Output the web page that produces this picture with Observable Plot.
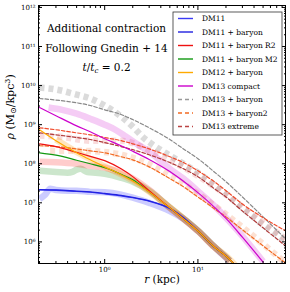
<!DOCTYPE html>
<html><head><meta charset="utf-8">
<script src="https://cdn.jsdelivr.net/npm/d3@7"></script>
<script src="https://cdn.jsdelivr.net/npm/@observablehq/plot@0.6"></script>
<style>
html,body{margin:0;padding:0;background:#fff;}
#chart{position:relative;width:290px;height:292px;}
</style></head><body><div id="chart"></div>
<script>
// ---------- data (r in kpc, values are log10 rho in Msun/kpc^3) ----------
const rThin = [0.2, 0.3, 0.5, 0.7, 1, 1.5, 2, 3, 5, 7, 10, 15, 20, 25];
const dm11Log       = [7.33, 7.32, 7.29, 7.27, 7.23, 7.18, 7.13, 7.04, 6.85, 6.62, 6.28, 5.87, 5.64, 5.41];
const dm11BarLog    = [7.34, 7.33, 7.30, 7.28, 7.24, 7.19, 7.14, 7.05, 6.86, 6.62, 6.28, 5.87, 5.64, 5.41];
const dm11R2Log     = [8.51, 8.44, 8.29, 8.19, 8.08, 7.87, 7.67, 7.31, 6.87, 6.59, 6.28, 5.87, 5.64, 5.41];
const dm11M2Log     = [8.28, 8.22, 8.09, 8.00, 7.90, 7.73, 7.59, 7.28, 6.87, 6.59, 6.28, 5.87, 5.64, 5.41];
const dm12BarLog    = [8.87, 8.59, 8.28, 8.10, 7.92, 7.72, 7.56, 7.28, 6.87, 6.59, 6.28, 5.87, 5.64, 5.41];

const rCompact = [0.2, 0.3, 0.5, 0.7, 1, 1.5, 2, 3, 5, 7, 10, 15, 20, 30, 50];
const dm13CompactLog = [9.44, 9.23, 8.97, 8.82, 8.64, 8.46, 8.32, 8.11, 7.80, 7.55, 7.26, 6.89, 6.60, 6.12, 5.48];

const rDash = [0.2, 0.3, 0.5, 0.7, 1, 1.5, 2, 3, 5, 7, 10, 15, 20, 30, 50, 87];
const dm13BarLog     = [9.67, 9.63, 9.56, 9.49, 9.38, 9.26, 9.13, 8.92, 8.62, 8.38, 8.13, 7.79, 7.54, 7.15, 6.64, 6.08];
const dm13Bar2Log    = [8.92, 8.87, 8.79, 8.74, 8.67, 8.59, 8.51, 8.38, 8.18, 8.03, 7.82, 7.54, 7.31, 6.97, 6.62, 6.28];
const dm13ExtremeLog = [8.79, 8.74, 8.67, 8.62, 8.54, 8.44, 8.36, 8.23, 8.03, 7.87, 7.67, 7.36, 7.15, 6.79, 6.36, 5.90];
const dm13Bar2bLog   = [8.46, 8.44, 8.38, 8.33, 8.28, 8.18, 8.10, 7.92, 7.62, 7.41, 7.15, 6.85, 6.64, 6.31, 5.90, 5.46];

// simulation profiles (thick faded)
const rSimDm11 = [0.2, 0.23, 0.26, 0.3, 0.4, 0.5, 0.7, 1, 1.5, 2, 3, 5, 7, 10, 15, 22];
const simDm11Log = [7.10, 7.21, 7.36, 7.33, 7.31, 7.31, 7.28, 7.27, 7.21, 7.13, 7.00, 6.79, 6.59, 6.28, 5.87, 5.51];
const rSimM2 = [0.2, 0.3, 0.4, 0.45, 0.5, 0.55, 0.65, 0.8, 1, 1.5, 2, 3, 5, 7, 10, 15, 22];
const simM2Log = [7.82, 7.79, 7.77, 7.79, 7.85, 7.87, 7.79, 7.77, 7.74, 7.64, 7.54, 7.31, 6.88, 6.60, 6.29, 5.88, 5.52];
const rSimR2 = [0.2, 0.3, 0.5, 0.7, 1, 1.5, 2, 3, 5, 7, 10, 15, 22];
const simR2Log = [8.05, 8.04, 8.00, 7.95, 7.90, 7.77, 7.62, 7.33, 6.87, 6.59, 6.28, 5.87, 5.51];
const rSimDm12 = [0.3, 0.5, 0.7, 1, 1.5, 2, 3, 5, 7, 10, 15, 20, 25];
const simDm12Log = [8.62, 8.30, 8.12, 7.93, 7.73, 7.57, 7.29, 6.88, 6.60, 6.28, 5.87, 5.64, 5.41];
const rSimCompact = [0.25, 0.35, 0.5, 0.7, 1, 1.3, 1.7, 2.2, 3, 5, 7, 10, 15, 20, 30, 50];
const simCompactLog = [9.44, 9.38, 9.28, 9.15, 9.00, 8.87, 8.69, 8.51, 8.31, 7.87, 7.62, 7.30, 6.92, 6.62, 6.15, 5.50];
const rSimDm13 = [0.2, 0.3, 0.5, 0.7, 1, 1.5, 2, 2.6, 3.5, 5, 7, 10, 15, 20, 30, 50, 87];
const simDm13Log = [9.95, 9.90, 9.77, 9.67, 9.49, 9.21, 8.95, 8.67, 8.44, 8.21, 8.00, 7.77, 7.46, 7.23, 6.87, 6.44, 6.03];
const rSimExt = [0.2, 0.34, 0.71, 1.48, 3.1, 6.5, 17.5, 47, 87];
const simExtLog = [8.72, 8.69, 8.59, 8.59, 8.33, 7.95, 7.31, 6.54, 6.08];
const rSimBar2 = [0.26, 0.55, 1.16, 2.43, 5.1, 10.7, 28.7, 87];
const simBar2Log = [8.33, 8.33, 8.28, 8.08, 7.69, 7.18, 6.41, 5.46];

const legendLabels = ["DM11", "DM11 + baryon", "DM11 + baryon R2", "DM11 + baryon M2", "DM12 + baryon",
  "DM13 compact", "DM13 + baryon", "DM13 + baryon2", "DM13 extreme"];
const legendColors = ["#3b3bf5", "#2020e0", "#ee1111", "#119911", "#ffaa00", "#cc00cc", "#999999", "#f26a22", "#bb4444"];
const legendDashed = [false, false, false, false, false, false, true, true, true];

const yMajor = [1e6, 1e7, 1e8, 1e9, 1e10, 1e11, 1e12];
const yMajorLabels = ["10⁶", "10⁷", "10⁸", "10⁹", "10¹⁰", "10¹¹", "10¹²"];
const xMajor = [1, 10];
const xMajorLabels = ["10⁰", "10¹"];

// ---------- build ----------
const rows = (rs, logs) => rs.map((r, i) => ({r, rho: 10 ** logs[i]}));
const yMinor = [];
for (let k = 5; k <= 11; k++) for (let m = 2; m <= 9; m++) { const v = m * 10 ** k; if (v > 2.8e5 && v < 1.1e12) yMinor.push(v); }
const xMinor = [];
for (let k = -1; k <= 1; k++) for (let m = 2; m <= 9; m++) { const v = m * 10 ** k; if (v >= 0.2 && v < 87) xMinor.push(v); }

const thick = (rs, logs, color, op, dash) => Plot.line(rows(rs, logs), {x: "r", y: "rho", stroke: color, strokeOpacity: op, strokeWidth: 6.5, strokeDasharray: dash, curve: "monotone-x", clip: true, strokeLinecap: "butt"});
const thin = (rs, logs, color, dash) => Plot.line(rows(rs, logs), {x: "r", y: "rho", stroke: color, strokeWidth: 1.2, strokeDasharray: dash, curve: "monotone-x", clip: true});

const chart = Plot.plot({
  width: 290, height: 292,
  marginLeft: 38, marginRight: 5, marginTop: 5, marginBottom: 29,
  style: {fontFamily: "DejaVu Serif", fontSize: "7px", background: "#fff", color: "#000"},
  x: {type: "log", domain: [0.195, 87]},
  y: {type: "log", domain: [2.8e5, 1.12e12]},
  marks: [
    thick(rSimDm13, simDm13Log, "#888", 0.3, "5,4"),
    thick(rSimExt, simExtLog, "#e05050", 0.2, "5,4"),
    thick(rSimBar2, simBar2Log, "#f26a22", 0.2, "5,4"),
    thick(rSimCompact, simCompactLog, "#cc00cc", 0.2, null),
    thick(rSimDm11, simDm11Log, "#0000ff", 0.2, null),
    thick(rSimM2, simM2Log, "#008000", 0.2, null),
    thick(rSimR2, simR2Log, "#ff0000", 0.2, null),
    thick(rSimDm12, simDm12Log, "#ff9900", 0.25, null),
    thin(rDash, dm13BarLog, "#888888", "3.5,2"),
    thin(rDash, dm13Bar2bLog, "#f26a22", "3.5,2"),
    thin(rDash, dm13ExtremeLog, "#b03a3a", "3.5,2"),
    thin(rDash, dm13Bar2Log, "#f04a2a", "3.5,2"),
    thin(rThin, dm11Log, "#3b3bf5"),
    thin(rThin, dm11BarLog, "#2020e0"),
    thin(rThin, dm11M2Log, "#119911"),
    thin(rThin, dm11R2Log, "#ee1111"),
    thin(rThin, dm12BarLog, "#ffaa00"),
    thin(rCompact, dm13CompactLog, "#cc00cc"),
    Plot.axisY(yMajor, {anchor: "left", tickSize: -4, tickPadding: 7, tickFormat: (d) => yMajorLabels[yMajor.indexOf(d)], label: null}),
    Plot.axisY(yMinor, {anchor: "left", tickSize: -2, tickFormat: () => "", label: null}),
    Plot.axisY(yMajor, {anchor: "right", tickSize: -4, tickFormat: () => "", label: null}),
    Plot.axisY(yMinor, {anchor: "right", tickSize: -2, tickFormat: () => "", label: null}),
    Plot.axisX(xMajor, {anchor: "bottom", tickSize: -4, tickPadding: 8, tickFormat: (d) => xMajorLabels[xMajor.indexOf(d)], label: null}),
    Plot.axisX(xMinor, {anchor: "bottom", tickSize: -2, tickFormat: () => "", label: null}),
    Plot.axisX(xMajor, {anchor: "top", tickSize: -4, tickFormat: () => "", label: null}),
    Plot.axisX(xMinor, {anchor: "top", tickSize: -2, tickFormat: () => "", label: null}),
    Plot.frame({stroke: "#000", strokeWidth: 1}),
    Plot.text(["Additional contraction"], {frameAnchor: "top-left", dx: 68, dy: 19, fontSize: 10.5, textAnchor: "middle"}),
    Plot.text(["Following Gnedin + 14"], {frameAnchor: "top-left", dx: 68, dy: 39, fontSize: 10.5, textAnchor: "middle"}),
    Plot.text(["t/tc = 0.2"], {frameAnchor: "top-left", dx: 68, dy: 58, fontSize: 10.5, textAnchor: "middle"}),
    Plot.text(["ρ (M⊙/kpc³)"], {frameAnchor: "left", dx: -28, dy: 5, rotate: -90, fontSize: 11}),
    Plot.text(["r (kpc)"], {frameAnchor: "bottom", dy: 19, fontSize: 10.5})
  ]
});
document.getElementById("chart").appendChild(chart);

const svg = d3.select(chart);
svg.selectAll("text").each(function () {
  const t = d3.select(this);
  const s = this.textContent;
  if (s === "t/tc = 0.2") {
    t.text(null);
    t.append("tspan").attr("font-style", "italic").text("t");
    t.append("tspan").text("/");
    t.append("tspan").attr("font-style", "italic").text("t");
    t.append("tspan").attr("font-style", "italic").attr("font-size", "7px").attr("dy", 2).text("c");
    t.append("tspan").attr("dy", -2).text(" = 0.2");
  } else if (s === "ρ (M⊙/kpc³)") {
    t.text(null);
    t.append("tspan").attr("font-style", "italic").text("ρ");
    t.append("tspan").text(" (M");
    t.append("tspan").attr("font-size", "8px").attr("dy", 2).text("⊙");
    t.append("tspan").attr("dy", -2).text("/kpc");
    t.append("tspan").attr("font-size", "8px").attr("dy", -4).text("3");
    t.append("tspan").attr("dy", 4).text(")");
  } else if (s === "r (kpc)") {
    t.text(null);
    t.append("tspan").attr("font-style", "italic").text("r");
    t.append("tspan").text(" (kpc)");
  }
});

const lg = svg.append("g").attr("class", "legend").attr("text-anchor", "start");
lg.append("rect").attr("x", 173).attr("y", 12).attr("width", 109).attr("height", 123)
  .attr("fill", "#fff").attr("stroke", "#333").attr("stroke-width", 0.8);
legendLabels.forEach((lab, i) => {
  const yy = 18.5 + i * 13.5;
  lg.append("line").attr("x1", 178).attr("x2", 193).attr("y1", yy).attr("y2", yy)
    .attr("stroke", legendColors[i]).attr("stroke-width", 1.4)
    .attr("stroke-dasharray", legendDashed[i] ? "4,3" : null);
  lg.append("text").attr("x", 202).attr("y", yy).attr("dy", "0.35em").attr("text-anchor", "start")
    .attr("font-family", "DejaVu Serif").attr("font-size", 7.5).text(lab);
});
</script></body></html>
